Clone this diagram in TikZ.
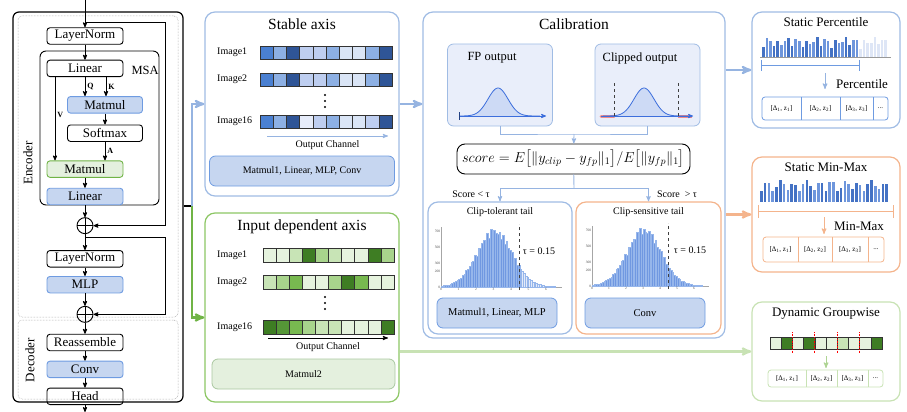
\documentclass[tikz,border=0pt]{standalone}
\usepackage{fontspec}
\setmainfont{Liberation Serif}
\usepackage{amsmath}
\usepackage{tikz}
\usetikzlibrary{arrows,positioning,calc}

\definecolor{axisblue}{RGB}{160,188,228}
\definecolor{arrblue}{RGB}{150,180,225}
\definecolor{boxblue}{RGB}{198,214,240}
\definecolor{edgeblue}{RGB}{110,155,225}
\definecolor{panelgreen}{RGB}{140,198,100}
\definecolor{arrgreen}{RGB}{112,180,70}
\definecolor{lightgreen}{RGB}{200,226,180}
\definecolor{boxgreen}{RGB}{228,240,222}
\definecolor{boxgreenedge}{RGB}{170,200,160}
\definecolor{panelorange}{RGB}{244,180,140}
\definecolor{plotfill}{RGB}{233,238,250}
\definecolor{curveblue}{RGB}{60,110,220}
\definecolor{curvefill}{RGB}{205,218,245}
\definecolor{tailred}{RGB}{240,140,140}
\definecolor{histblue}{RGB}{112,152,225}
\definecolor{histedge}{RGB}{150,182,235}
\definecolor{histpale}{RGB}{228,235,249}
\definecolor{bardark}{RGB}{68,114,196}
\definecolor{barmid}{RGB}{110,150,220}
\definecolor{barlight}{RGB}{180,200,238}
\definecolor{barfaint}{RGB}{222,230,246}
\definecolor{b1}{RGB}{47,85,151}
\definecolor{b2}{RGB}{74,128,210}
\definecolor{b3}{RGB}{141,176,228}
\definecolor{b4}{RGB}{190,206,240}
\definecolor{b5}{RGB}{218,229,246}
\definecolor{b6}{RGB}{230,236,250}
\definecolor{g1}{RGB}{62,125,35}
\definecolor{g2}{RGB}{85,150,55}
\definecolor{g3}{RGB}{120,185,80}
\definecolor{g4}{RGB}{168,212,140}
\definecolor{g5}{RGB}{200,228,182}
\definecolor{g6}{RGB}{230,243,222}

\tikzset{
    %Define standard arrow tip
    >=stealth',
    %Define style for titles
    title/.style={
           text centered,
           inner sep=1pt,
           font=\fontsize{15.5}{18}\selectfont},
    % Define arrow style
    pil/.style={
           ->,
           line width=2.2pt}
}

\begin{document}
\begin{tikzpicture}[x=1pt, y=-1pt, node distance=10pt]
	\tikzstyle{blk} = [rectangle, draw, line width=0.9pt, minimum width=76pt, minimum height=16.5pt, inner sep=0pt, rounded corners=3pt, font=\fontsize{13}{15}\selectfont]
	\tikzstyle{blkblue} = [blk, fill=boxblue, draw=edgeblue]
	\tikzstyle{blkgreen} = [blk, fill=boxgreen, draw=arrgreen]
	\tikzstyle{addop} = [circle, draw, line width=0.9pt, minimum size=16pt, inner sep=0pt,
	    path picture={\draw[line width=0.9pt] (path picture bounding box.north) -- (path picture bounding box.south)
	                  (path picture bounding box.west) -- (path picture bounding box.east);}]
	\tikzstyle{flow} = [->, line width=0.8pt]
	\tikzstyle{qk} = [font=\fontsize{8}{9}\selectfont\bfseries, inner sep=2pt]
	\tikzstyle{frame} = [rectangle, draw, inner sep=0pt]
	\tikzstyle{dframe} = [frame, draw=black!45, densely dotted, line width=0.5pt, rounded corners=4pt]
	\tikzstyle{panel} = [rectangle, rounded corners=10pt, line width=1.2pt, inner sep=0pt]
	\tikzstyle{lbl} = [font=\fontsize{10}{12}\selectfont, inner sep=1pt]
	\tikzstyle{sub} = [font=\fontsize{12.5}{15}\selectfont, inner sep=1pt]
	\tikzstyle{subtitle} = [font=\fontsize{13}{15}\selectfont, inner sep=1pt]
	\tikzstyle{opsbox} = [lbl, rounded corners=6pt, line width=0.8pt, minimum height=30pt]
	\tikzstyle{cellline} = [draw=black!80, line width=0.5pt]
	\tikzstyle{plotbox} = [rectangle, rounded corners=6pt, fill=plotfill, draw=axisblue, line width=0.8pt, minimum width=105pt, minimum height=82pt]
	\tikzstyle{ticklab} = [font=\fontsize{3.5}{4}\selectfont, inner sep=0.6pt, black!70]
	\tikzstyle{param} = [font=\fontsize{7}{8}\selectfont, inner sep=0pt]

	\useasboundingbox (0,0) rectangle (907,412);

	% Encoder / decoder frames
	\node[frame, line width=1.2pt, rounded corners=6pt, minimum width=170pt, minimum height=390pt] (model) at (98,207) {};
	\node[dframe, minimum width=160pt, minimum height=301pt] (enc) at (98,166.5) {};
	\node[dframe, minimum width=160pt, minimum height=79pt] (dec) at (98,359.5) {};
	\node[rotate=90, font=\fontsize{13}{15}\selectfont] (enclab) at (28,163) {Encoder};
	\node[rotate=90, font=\fontsize{13}{15}\selectfont] (declab) at (30,360) {Decoder};
	\node[frame, line width=0.9pt, rounded corners=6pt, minimum width=119pt, minimum height=154pt] (msa) at (99.5,128) {};
	\node[font=\fontsize{12.5}{15}\selectfont, anchor=west] (msalab) at (128,70) {MSA};

	% Transformer block
	\node[blk] (ln1) at (85,36) {LayerNorm};
	\node[blk, below=15pt of ln1] (lin1) {Linear};
	\node[blkblue, minimum width=75pt, below=19pt of lin1, xshift=20pt] (mm1) {Matmul};
	\node[blk, minimum width=75pt, below=11pt of mm1] (smax) {Softmax};
	\node[blkgreen, below=18.5pt of smax, xshift=-20pt] (mm2) {Matmul};
	\node[blkblue, below=10pt of mm2] (lin2) {Linear};
	\node[addop, below=12pt of lin2] (add1) {};
	\node[blk, below=16pt of add1] (ln2) {LayerNorm};
	\node[blkblue, below=8.5pt of ln2] (mlp) {MLP};
	\node[addop, below=12.5pt of mlp] (add2) {};
	\node[blk, below=11pt of add2] (reasm) {Reassemble};
	\node[blkblue, below=9.5pt of reasm] (conv) {Conv};
	\node[blk, below=9.5pt of conv] (head) {Head};

	\coordinate (src) at (85,0);
	\coordinate (sink) at (85,412);
	\coordinate (res1) at (85,22);
	\coordinate (res1r) at (165,22);
	\coordinate (res2) at (85,237);
	\coordinate (res2r) at (165,237);

	\draw[flow] (src) -- (ln1);
	\draw[flow] (ln1) -- (lin1);
	\draw[flow] (lin1.south) -- (lin1.south |- mm1.north) node[qk, midway, right] (qlab) {Q};
	\draw[flow] ([xshift=21pt]lin1.south) -- ([xshift=21pt]lin1.south |- mm1.north) node[qk, midway, right] (klab) {K};
	\draw[flow] ([xshift=-30pt]lin1.south) -- ([xshift=-30pt]lin1.south |- mm2.north) node[qk, pos=0.46, right] (vlab) {V};
	\draw[flow] (mm1) -- (smax);
	\draw[flow] (smax.south) -- (smax.south |- mm2.north) node[qk, midway, right] (alab) {A};
	\draw[flow] (mm2) -- (lin2);
	\draw[flow] (lin2) -- (add1);
	\draw[flow] (res1) -- (res1r) |- (add1);
	\draw[flow] (add1) -- (ln2);
	\draw[flow] (res2) -- (res2r) |- (add2);
	\draw[flow] (ln2) -- (mlp);
	\draw[flow] (mlp) -- (add2);
	\draw[flow] (add2) -- (reasm);
	\draw[flow] (reasm) -- (conv);
	\draw[flow] (conv) -- (head);
	\draw[flow] (head) -- (sink);

	% Stable axis
	\node[panel, draw=axisblue, minimum width=194pt, minimum height=184pt] (stable) at (302,104) {};
	\node[title, below=6pt of stable.north] (stabletitle) {Stable axis};
	\foreach \ry/\img/\cols in {46/Image1/{b2,b3,b1,b4,b4,b3,b5,b5,b3,b1}, 73/Image2/{b2,b3,b1,b4,b4,b3,b5,b5,b3,b1}, 115/Image16/{b2,b3,b1,b6,b4,b3,b5,b5,b4,b1}}{
	    \node[lbl, anchor=west] (s\img) at (216,\ry+6.5) {\img};
	    \foreach \c [count=\k] in \cols
	        \draw[cellline, fill=\c] (246.8+13.2*\k,\ry) rectangle ++(13.2,13);
	}
	\foreach \dy in {95,101,107} \fill (325,\dy) circle (1.1pt);
	\coordinate (soc1) at (267,136);
	\coordinate (soc2) at (388,136);
	\draw[->, arrblue, line width=0.9pt] (soc1) -- (soc2) node[lbl, black, midway, below=3pt] (soclab) {Output Channel};
	\node[opsbox, fill=boxblue, draw=edgeblue, minimum width=185pt] (stableops) at (302,171) {Matmul1, Linear, MLP, Conv};

	% Input dependent axis
	\node[panel, draw=panelgreen, minimum width=194pt, minimum height=189pt] (inputdep) at (302,307.5) {};
	\node[title, below=6pt of inputdep.north] (inputdeptitle) {Input dependent axis};
	\foreach \ry/\img/\cols in {248/Image1/{g6,g6,g5,g1,g4,g5,g6,g6,g1,g4}, 275/Image2/{g5,g4,g3,g6,g6,g4,g1,g3,g6,g6}, 320/Image16/{g1,g2,g3,g4,g5,g5,g6,g6,g6,g1}}{
	    \node[lbl, anchor=west] (d\img) at (216,\ry+7) {\img};
	    \foreach \c [count=\k] in \cols
	        \draw[cellline, fill=\c] (249.9+13.1*\k,\ry) rectangle ++(13.1,14);
	}
	\foreach \dy in {297,303,309} \fill (325,\dy) circle (1.1pt);
	\coordinate (doc1) at (268,338);
	\coordinate (doc2) at (388,338);
	\draw[->, line width=0.9pt] (doc1) -- (doc2) node[lbl, midway, below=3pt] (doclab) {Output Channel};
	\node[opsbox, fill=boxgreen, draw=boxgreenedge, minimum width=183pt] (inputops) at (303.5,374) {Matmul2};

	% encoder output split
	\coordinate (split) at (192,206);
	\draw[line width=1.6pt] (model.east |- split) -- (split);
	\draw[pil, arrblue] (split) |- (stable.west);
	\draw[pil, arrgreen] (split) |- ([yshift=-10pt]inputdep.west);

	% Calibration
	\node[panel, draw=axisblue, minimum width=302pt, minimum height=326pt] (calib) at (574,175) {};
	\node[title, below=6pt of calib.north] (calibtitle) {Calibration};
	\node[plotbox] (fpbox) at (500,85) {};
	\node[plotbox] (clipbox) at (647.5,85) {};
	\node[sub] (fptitle) at (492,58) {FP output};
	\node[sub] (cliptitle) at (640,58) {Clipped output};

	\fill[curvefill] plot[domain=459:540, samples=60] (\x,{116-28*exp(-((\x-498)^2)/200)}) -- cycle;
	\draw[curveblue, line width=0.8pt] plot[domain=459:540, samples=60] (\x,{116-28*exp(-((\x-498)^2)/200)});
	\draw[->, curveblue, line width=0.8pt] (459,116) -- (546,116);
	\draw[curveblue!60!black, line width=0.8pt] (459,112) -- (459,120);

	\fill[curvefill] plot[domain=603:688, samples=60] (\x,{116-28*exp(-((\x-644)^2)/200)}) -- cycle;
	\draw[tailred, line width=3pt, line cap=round] (601,116) -- (614,116);
	\draw[tailred, line width=3pt] (678,116) -- (692,116);
	\draw[curveblue, line width=0.8pt] plot[domain=603:688, samples=60] (\x,{116-28*exp(-((\x-644)^2)/200)});
	\draw[->, curveblue, line width=0.8pt] (601,116) -- (693,116);
	\draw[dashed, black!75, line width=0.8pt] (614,83) -- (614,117);
	\draw[dashed, black!75, line width=0.8pt] (678,83) -- (678,117);

	\node[draw, rounded corners=8pt, line width=0.9pt, minimum width=233pt, minimum height=30pt, inner sep=2pt, font=\fontsize{14}{16}\selectfont] (score) at (573.5,159)
	    {$score = E\bigl[\|y_{clip}-y_{fp}\|_1\bigr]/E\bigl[\|y_{fp}\|_1\bigr]$};
	\coordinate (merge) at (574,134);
	\coordinate (fork) at (574,188);
	\draw[arrblue, line width=0.9pt] (fpbox.south) |- (merge) -| (clipbox.south);
	\draw[->, arrblue, line width=0.9pt] (merge) -- (score);

	\node[panel, draw=axisblue, minimum width=144pt, minimum height=132pt] (tol) at (500,268) {};
	\node[panel, draw=panelorange, minimum width=145pt, minimum height=132pt] (sens) at (648.5,268) {};
	\draw[arrblue, line width=0.9pt] (score) -- (fork);
	\draw[->, arrblue, line width=0.9pt] (fork) -| (tol.north);
	\draw[->, arrblue, line width=0.9pt] (fork) -| (sens.north);
	\node[lbl] (lesslab) at (471,194) {Score < τ};
	\node[lbl] (morelab) at (677,194) {Score \ > τ};
	\node[lbl, below=5pt of tol.north] (toltitle) {Clip-tolerant tail};
	\node[lbl, below=5pt of sens.north] (senstitle) {Clip-sensitive tail};

	\foreach \ox/\oy/\dx/\open in {441/287/17.5/1, 592/286/17/0}{
	    \draw[black!35, line width=0.4pt] (\ox,\oy-60) -- (\ox,\oy) -- (\ox+6.9*\dx,\oy);
	    \foreach \i in {0,...,64}{
	        \pgfmathsetmacro\h{54.4*exp(-((\i/10-3)^2)/2)*(1+0.07*sin(\i*157))+0.6}
	        \ifnum\i>44 \ifnum\open=1 \def\bc{histpale}\def\bd{histedge}\else\def\bc{histblue}\def\bd{histedge}\fi\else\def\bc{histblue}\def\bd{histedge}\fi
	        \filldraw[fill=\bc, draw=\bd, line width=0.25pt] (\ox+\i*\dx/10,\oy) rectangle ++(\dx/10,-\h);
	    }
	    \foreach \t in {0,...,6} \node[ticklab, below] (xt\open\t) at (\ox+\t*\dx,\oy) {\t};
	    \foreach \v in {0,200,300,500,700} \node[ticklab, left] (yt\open\v) at (\ox,\oy-0.08*\v) {\v};
	    \draw[dashed, black!75, line width=0.6pt] (\ox+4.5*\dx,\oy+3) -- (\ox+4.5*\dx,\oy-63);
	    \node[lbl] (tau\open) at (\ox+98,\oy-36) {τ = 0.15};
	}
	\node[opsbox, fill=boxblue, draw=edgeblue, minimum width=120pt, font=\fontsize{10.5}{12}\selectfont] (tolops) at (497,313) {Matmul1, Linear, MLP};
	\node[opsbox, fill=boxblue, draw=edgeblue, minimum width=120pt, font=\fontsize{10.5}{12}\selectfont] (sensops) at (645,313) {Conv};

	\draw[pil, arrblue] (stable.east) -- (stable.east -| calib.west);

	% Static Percentile
	\node[panel, draw=axisblue, minimum width=148pt, minimum height=116pt] (pct) at (826,70) {};
	\node[subtitle, below=5pt of pct.north] (pcttitle) {Static Percentile};
	\draw[black!40, line width=0.4pt] (760,57) -- (891,57);
	\foreach \i in {0,...,34}{
	    \pgfmathsetmacro\h{6+10*abs(sin(\i*67))+4*abs(cos(\i*23))}
	    \pgfmathtruncatemacro\m{mod(\i*5+\i*\i,4)}
	    \ifnum\i>26 \def\bc{barfaint}\else \ifcase\m \def\bc{bardark}\or \def\bc{barlight}\or \def\bc{barmid}\or \def\bc{barlight}\fi\fi
	    \fill[fill=\bc] (762+3.6*\i,57) rectangle ++(2.5,-\h);
	}
	\draw[edgeblue, line width=0.8pt] (761,60) -- (761,71) (761,65) -- (859,65) (859,60) -- (859,71);
	\coordinate (pcta) at (825,73);
	\coordinate (pctb) at (825,89);
	\draw[->, arrblue, line width=1pt] (pcta) -- (pctb);
	\node[subtitle] (pctlab) at (862,84) {Percentile};
	\node[rectangle, draw=edgeblue, line width=0.8pt, rounded corners=3pt, minimum width=126pt, minimum height=23pt] (pctpar) at (825,108.5) {};
	\foreach \dx in {801,840,873} \draw[edgeblue, line width=0.6pt] (\dx,97) -- (\dx,120);
	\foreach \cx/\t in {781.5/1, 820.5/2, 856.5/3} \node[param] (pp\t) at (\cx,108.5) {[Δ\textsubscript{\t}, z\textsubscript{\t}]};
	\node[param] (ppdots) at (880.5,108.5) {...};
	\draw[pil, arrblue] (pct.west -| calib.east) -- (pct.west);

	% Static Min-Max
	\node[panel, draw=panelorange, minimum width=148pt, minimum height=115pt] (minmax) at (826,214.5) {};
	\node[subtitle, below=5pt of minmax.north] (mmtitle) {Static Min-Max};
	\foreach \i in {0,...,33}{
	    \pgfmathsetmacro\h{7+11*abs(sin(\i*53))+4*abs(cos(\i*31))}
	    \pgfmathtruncatemacro\m{mod(\i*7+\i*\i,4)}
	    \ifcase\m \def\bc{bardark}\or \def\bc{barlight}\or \def\bc{barmid}\or \def\bc{barlight}\fi
	    \fill[fill=\bc] (760+3.8*\i,202) rectangle ++(2.6,-\h);
	}
	\draw[panelorange, line width=0.9pt] (758,205) -- (758,218) (758,211) -- (893,211) (893,205) -- (893,218);
	\coordinate (mma) at (824,217);
	\coordinate (mmb) at (824,234);
	\draw[->, panelorange, line width=1pt] (mma) -- (mmb);
	\node[subtitle] (mmlab) at (859,226) {Min-Max};
	\node[rectangle, draw=panelorange, line width=0.8pt, rounded corners=3pt, minimum width=121pt, minimum height=25pt] (mmpar) at (823.5,249.5) {};
	\foreach \dx in {798,832,868} \draw[panelorange, line width=0.6pt] (\dx,237) -- (\dx,262);
	\foreach \cx/\t in {780.5/1, 815/2, 850/3} \node[param] (mp\t) at (\cx,249.5) {[Δ\textsubscript{\t}, z\textsubscript{\t}]};
	\node[param] (mpdots) at (876,249.5) {...};
	\draw[pil, panelorange] (minmax.west -| calib.east) -- (minmax.west);

	% Dynamic Groupwise
	\node[panel, draw=lightgreen, minimum width=148pt, minimum height=99pt] (dyn) at (826,351.5) {};
	\node[subtitle, below=5pt of dyn.north] (dyntitle) {Dynamic Groupwise};
	\foreach \c [count=\k] in {g6,g1,g6,g1,g6,g6,g5,g6,g6,g1}
	    \draw[cellline, fill=\c] (758.8+11.2*\k,337) rectangle ++(11.2,12);
	\foreach \k in {2,4,6,8} \draw[red, densely dotted, line width=0.7pt] (770+11.2*\k,332) -- (770+11.2*\k,354);
	\coordinate (dga) at (826,356);
	\coordinate (dgb) at (826,368);
	\draw[->, lightgreen!70!arrgreen, line width=1pt] (dga) -- (dgb);
	\node[rectangle, draw=lightgreen, line width=0.8pt, rounded corners=3pt, minimum width=115pt, minimum height=17pt] (dgpar) at (825.5,378.5) {};
	\foreach \dx in {806,837,868} \draw[lightgreen, line width=0.6pt] (\dx,370) -- (\dx,387);
	\foreach \cx/\t in {787/1, 821.5/2, 852.5/3} \node[param] (dp\t) at (\cx,378.5) {[Δ\textsubscript{\t}, z\textsubscript{\t}]};
	\node[param] (dpdots) at (875.5,378.5) {...};
	\draw[pil, lightgreen] (dyn.west -| inputdep.east) -- (dyn.west);

\end{tikzpicture}
\end{document}
